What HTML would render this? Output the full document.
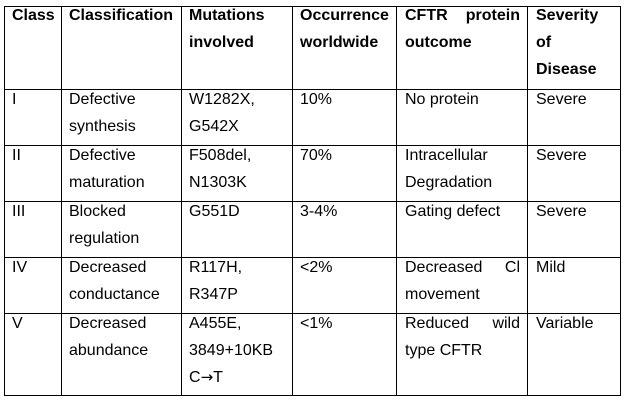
<!DOCTYPE html>
<html>
<head>
<meta charset="utf-8">
<style>
html,body{margin:0;padding:0;background:#fff;}
body{width:625px;height:401px;position:relative;overflow:hidden;font-family:"Liberation Sans",Arial,sans-serif;font-size:16px;color:#000;}
.h{position:absolute;height:1px;background:#000;}
.v{position:absolute;width:1px;background:#000;}
.t{position:absolute;line-height:27px;white-space:nowrap;}
.b{font-weight:bold;}
.j{display:flex;justify-content:space-between;}
.ar{font-family:"DejaVu Sans",sans-serif;font-size:15px;}
</style>
</head>
<body>
<!-- horizontal lines -->
<div class="h" style="left:4px;width:617px;top:6px"></div>
<div class="h" style="left:4px;width:617px;top:89px"></div>
<div class="h" style="left:4px;width:617px;top:145px"></div>
<div class="h" style="left:4px;width:617px;top:201px"></div>
<div class="h" style="left:4px;width:617px;top:257px"></div>
<div class="h" style="left:4px;width:617px;top:313px"></div>
<div class="h" style="left:4px;width:617px;top:395px"></div>
<!-- vertical lines -->
<div class="v" style="left:4px;top:6px;height:390px"></div>
<div class="v" style="left:61px;top:6px;height:390px"></div>
<div class="v" style="left:181px;top:6px;height:390px"></div>
<div class="v" style="left:292px;top:6px;height:390px"></div>
<div class="v" style="left:396px;top:6px;height:390px"></div>
<div class="v" style="left:527px;top:6px;height:390px"></div>
<div class="v" style="left:620px;top:6px;height:390px"></div>

<!-- header -->
<div class="t b" style="left:12px;top:2px">Class</div>
<div class="t b" style="left:69px;top:2px">Classification</div>
<div class="t b" style="left:189px;top:2px">Mutations<br>involved</div>
<div class="t b" style="left:300px;top:2px">Occurrence<br>worldwide</div>
<div class="t b" style="left:405px;top:2px;width:115px"><div class="j"><span>CFTR</span><span>protein</span></div>outcome</div>
<div class="t b" style="left:536px;top:2px">Severity<br>of<br>Disease</div>

<!-- row I -->
<div class="t" style="left:12px;top:86px">I</div>
<div class="t" style="left:69px;top:86px">Defective<br>synthesis</div>
<div class="t" style="left:189px;top:86px">W1282X,<br>G542X</div>
<div class="t" style="left:300px;top:86px">10%</div>
<div class="t" style="left:405px;top:86px">No protein</div>
<div class="t" style="left:536px;top:86px">Severe</div>

<!-- row II -->
<div class="t" style="left:12px;top:142px">II</div>
<div class="t" style="left:69px;top:142px">Defective<br>maturation</div>
<div class="t" style="left:189px;top:142px">F508del,<br>N1303K</div>
<div class="t" style="left:300px;top:142px">70%</div>
<div class="t" style="left:405px;top:142px">Intracellular<br>Degradation</div>
<div class="t" style="left:536px;top:142px">Severe</div>

<!-- row III -->
<div class="t" style="left:12px;top:198px">III</div>
<div class="t" style="left:69px;top:198px">Blocked<br>regulation</div>
<div class="t" style="left:189px;top:198px">G551D</div>
<div class="t" style="left:300px;top:198px">3-4%</div>
<div class="t" style="left:405px;top:198px">Gating defect</div>
<div class="t" style="left:536px;top:198px">Severe</div>

<!-- row IV -->
<div class="t" style="left:12px;top:254px">IV</div>
<div class="t" style="left:69px;top:254px">Decreased<br>conductance</div>
<div class="t" style="left:189px;top:254px">R117H,<br>R347P</div>
<div class="t" style="left:300px;top:254px">&lt;2%</div>
<div class="t" style="left:405px;top:254px;width:115px"><div class="j"><span>Decreased</span><span>Cl</span></div>movement</div>
<div class="t" style="left:536px;top:254px">Mild</div>

<!-- row V -->
<div class="t" style="left:12px;top:310px">V</div>
<div class="t" style="left:69px;top:310px">Decreased<br>abundance</div>
<div class="t" style="left:189px;top:310px">A455E,<br>3849+10KB<br>C<span class="ar">→</span>T</div>
<div class="t" style="left:300px;top:310px">&lt;1%</div>
<div class="t" style="left:405px;top:310px;width:115px"><div class="j"><span>Reduced</span><span>wild</span></div>type CFTR</div>
<div class="t" style="left:536px;top:310px">Variable</div>
</body>
</html>
